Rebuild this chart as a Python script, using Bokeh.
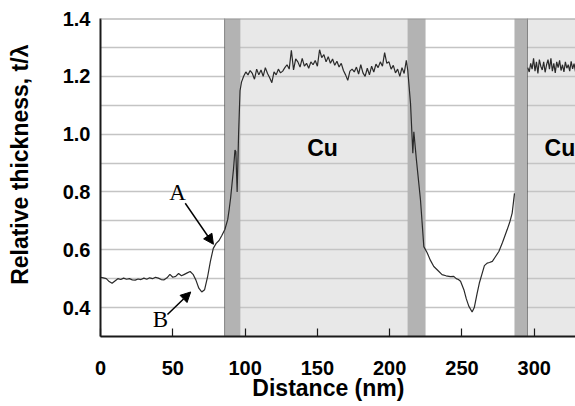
from bokeh.plotting import figure
from bokeh.models import Range1d, FixedTicker, PrintfTickFormatter, Label, Arrow, NormalHead, Span
from bokeh.embed import file_html
from bokeh.resources import INLINE

# ---------------- data ----------------
x_ticks = [0, 50, 100, 150, 200, 250, 300]
y_ticks = [0.4, 0.6, 0.8, 1.0, 1.2, 1.4]
y_grid = [0.4, 0.5, 0.6, 0.7, 0.8, 0.9, 1.0, 1.1, 1.2, 1.3]

# Cu regions (light grey) and interface bands (dark grey), nm
cu_left = [96.8, 295.3]
cu_right = [212.3, 400.0]
band_left = [85.8, 212.3, 286.3]
band_right = [96.8, 224.8, 295.3]
dotted_x = [85.8, 295.3]

# profile, first segment (0 - 286 nm)
seg1_x = [0, 2, 4, 6, 8, 10, 12, 14, 16, 18, 20, 22, 24, 26, 28, 30, 32, 34, 36, 38,
          40, 42, 44, 46, 48, 50, 52, 54, 56, 58, 60, 62, 64, 66, 68, 70, 72, 74, 76, 78,
          80, 82, 84, 86, 88, 89, 90, 91, 92, 93, 93.6, 94.5, 95.5, 96.5,
          97.5, 99, 100.5, 102, 103.5, 105, 106.5, 108, 109.5, 111, 112.5, 114, 115.5, 117,
          118.5, 120, 121.5, 123, 124.5, 126, 127.5, 129, 130.5, 132, 133.5, 135, 136.5, 138,
          139.5, 141, 142.5, 144, 145.5, 147, 148.5, 150, 151.5, 153, 154.5, 156, 157.5, 159,
          160.5, 162, 163.5, 165, 166.5, 168, 169.5, 171, 172.5, 174, 175.5, 177, 178.5, 180,
          181.5, 183, 184.5, 186, 187.5, 189, 190.5, 192, 193.5, 195, 196.5, 198, 199.5, 201,
          202.5, 204, 205.5, 207, 208.5, 210, 211.5,
          212.5, 214.4, 216, 216.7, 218.5, 221.3, 223.6, 225.9, 228, 230.5, 233, 236.2, 239,
          242, 244.3, 246, 247.5, 249, 251.3, 253, 254.7, 257, 258.5, 260.5, 262, 264, 265.5,
          267.4, 269, 271, 273, 275.5, 278, 281.2, 283, 284.7, 286.3]
seg1_y = [0.505, 0.503, 0.500, 0.490, 0.484, 0.492, 0.500, 0.497, 0.502, 0.498, 0.500, 0.496,
          0.495, 0.499, 0.497, 0.502, 0.498, 0.503, 0.500, 0.505, 0.502, 0.497, 0.496, 0.503,
          0.515, 0.505, 0.508, 0.518, 0.510, 0.515, 0.520, 0.525, 0.515, 0.495, 0.467, 0.454,
          0.462, 0.505, 0.560, 0.605, 0.622, 0.632, 0.650, 0.670, 0.705, 0.740, 0.780, 0.830,
          0.880, 0.945, 0.940, 0.800, 1.000, 1.150,
          1.180, 1.200, 1.215, 1.205, 1.220, 1.210, 1.190, 1.225, 1.205, 1.222, 1.200, 1.230,
          1.210, 1.195, 1.178, 1.215, 1.205, 1.225, 1.212, 1.218, 1.230, 1.240, 1.225, 1.290,
          1.222, 1.260, 1.250, 1.232, 1.262, 1.235, 1.245, 1.228, 1.250, 1.240, 1.255, 1.235,
          1.292, 1.265, 1.275, 1.250, 1.268, 1.245, 1.260, 1.238, 1.252, 1.232, 1.245, 1.220,
          1.205, 1.186, 1.218, 1.225, 1.215, 1.232, 1.208, 1.240, 1.212, 1.200, 1.228, 1.205,
          1.235, 1.215, 1.242, 1.230, 1.250, 1.235, 1.282, 1.245, 1.250, 1.225, 1.238, 1.212,
          1.225, 1.200, 1.230, 1.210, 1.255,
          1.220, 1.107, 0.934, 1.008, 0.910, 0.772, 0.611, 0.590, 0.565, 0.542, 0.530, 0.514,
          0.510, 0.507, 0.508, 0.500, 0.497, 0.491, 0.462, 0.430, 0.405, 0.385, 0.400, 0.450,
          0.485, 0.519, 0.545, 0.554, 0.556, 0.560, 0.575, 0.594, 0.625, 0.669, 0.695, 0.727,
          0.795]

# profile, second segment (295 nm onward)
seg2_x = [295.5, 296.5, 297.5, 298.5, 299.5, 300.5, 301.5, 302.5, 303.5, 304.5, 305.5, 306.5,
          307.5, 308.5, 309.5, 310.5, 311.5, 312.5, 313.5, 314.5, 315.5, 316.5, 317.5, 318.5,
          319.5, 320.5, 321.5, 322.5, 323.5, 324.5, 325.5, 326.5, 327.5, 328.5, 329.5]
seg2_y = [1.230, 1.215, 1.245, 1.225, 1.262, 1.218, 1.250, 1.210, 1.258, 1.235, 1.222, 1.250,
          1.214, 1.240, 1.258, 1.225, 1.262, 1.218, 1.245, 1.212, 1.250, 1.230, 1.255, 1.220,
          1.240, 1.215, 1.250, 1.228, 1.240, 1.218, 1.252, 1.226, 1.244, 1.216, 1.238]

# ---------------- figure ----------------
FONT = "Liberation Sans"
NB = "\u00a0"
p = figure(width=575, height=406, output_backend="svg", toolbar_location=None,
           x_range=Range1d(0, 328.5), y_range=Range1d(0.3, 1.4),
           min_border_left=100, min_border_right=0, min_border_top=18, min_border_bottom=70)
p.outline_line_color = None
p.background_fill_color = "white"
p.border_fill_color = "white"

# light grey Cu regions below the grid
p.quad(left=cu_left, right=cu_right, bottom=0.3, top=1.4, fill_color="#e8e8e8",
       line_color=None, level="image")

# grid
p.xgrid.visible = False
p.ygrid.ticker = FixedTicker(ticks=y_grid)
p.ygrid.grid_line_color = "#c4c4c4"
p.ygrid.grid_line_width = 1.5

# dark interface bands
p.quad(left=band_left, right=band_right, bottom=0.3, top=1.4, fill_color="#b3b3b3",
       line_color=None)

# profile
p.line(seg1_x, seg1_y, line_color="#2a2a2a", line_width=1.2)
p.line(seg2_x, seg2_y, line_color="#2a2a2a", line_width=1.2)

for dx in dotted_x:
    p.add_layout(Span(location=dx, dimension="height", line_color="#333333",
                      line_width=1, line_dash="1 1"))
p.add_layout(Span(location=1.4, dimension="width", line_color="#9a9a9a", line_width=2))

# axes
for ax in (p.xaxis[0], p.yaxis[0]):
    ax.axis_line_color = "#1a1a1a"
    ax.axis_line_width = 2
    ax.major_label_text_font = FONT
    ax.major_label_text_font_style = "bold"
    ax.major_label_text_font_size = "20px"
    ax.major_label_text_color = "black"
    ax.minor_tick_line_color = None
    ax.axis_label_text_font = FONT
    ax.axis_label_text_font_style = "bold"
    ax.axis_label_text_font_size = "23px"
    ax.axis_label_text_color = "black"

p.xaxis.ticker = FixedTicker(ticks=x_ticks)
p.xaxis.major_tick_in = 8
p.xaxis.major_tick_out = 0
p.xaxis.major_tick_line_color = "#1a1a1a"
p.xaxis.major_tick_line_width = 1.2
p.xaxis.major_label_standoff = 24
p.xaxis.axis_label = "Distance (nm)" + NB * 3
p.xaxis.axis_label_standoff = -3

p.yaxis.ticker = FixedTicker(ticks=y_ticks)
p.yaxis.formatter = PrintfTickFormatter(format="%.1f")
p.yaxis.major_tick_in = 0
p.yaxis.major_tick_out = 0
p.yaxis.major_tick_line_color = None
p.yaxis.major_label_standoff = 10
p.yaxis.axis_label = NB * 4 + "Relative thickness, t/\u03bb"
p.yaxis.axis_label_standoff = 27

# annotations
p.add_layout(Label(x=153.5, y=0.952, text="Cu", text_font=FONT, text_font_style="bold",
                   text_font_size="23px", text_align="center", text_baseline="middle",
                   text_color="black"))
p.add_layout(Label(x=307.1, y=0.952, text="Cu", text_font=FONT, text_font_style="bold",
                   text_font_size="23px", text_align="left", text_baseline="middle",
                   text_color="black"))
p.add_layout(Label(x=53.25, y=0.798, text="A", text_font="Liberation Serif",
                   text_font_size="23px", text_align="center", text_baseline="middle",
                   text_color="black"))
p.add_layout(Label(x=41.5, y=0.359, text="B", text_font="Liberation Serif",
                   text_font_size="23px", text_align="center", text_baseline="middle",
                   text_color="black"))

p.add_layout(Arrow(x_start=58.6, y_start=0.761, x_end=78.1, y_end=0.619,
                   line_color="black", line_width=1.5,
                   end=NormalHead(size=10, fill_color="black", line_color="black")))
p.add_layout(Arrow(x_start=46.3, y_start=0.376, x_end=62.4, y_end=0.454,
                   line_color="black", line_width=1.5,
                   end=NormalHead(size=10, fill_color="black", line_color="black")))

open("out.html", "w").write(file_html(p, INLINE))
